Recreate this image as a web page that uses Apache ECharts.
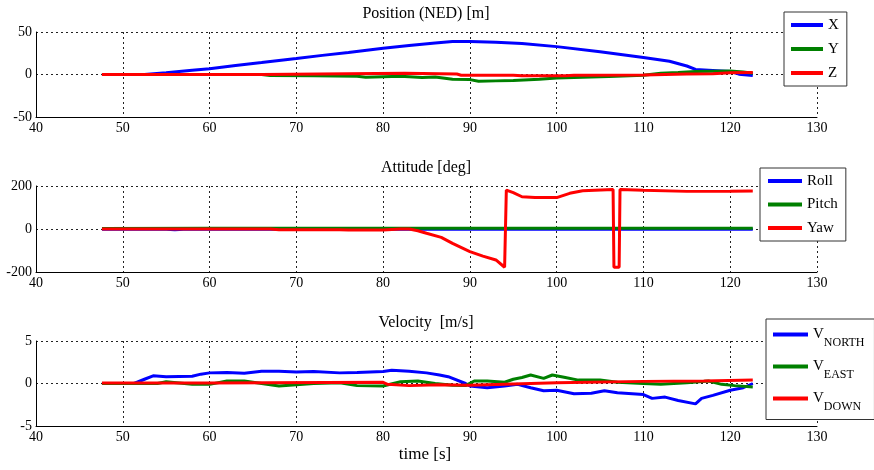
<!DOCTYPE html>
<html>
<head>
<meta charset="utf-8">
<script src="https://cdn.jsdelivr.net/npm/echarts@6/dist/echarts.min.js"></script>
<style>
  html, body { margin: 0; padding: 0; background: #fff; }
  #chart { width: 874px; height: 470px; }
</style>
</head>
<body>
<div id="chart"></div>
<script>
// position (NED) [m]
var posXT = [47.6, 52.5, 55, 58, 60, 63, 66, 70, 73, 76, 80, 83, 86, 88, 90, 93, 96, 100, 105, 110, 113, 115, 116, 118, 120, 121, 122.6]
var posX = [0, 0, 2, 5, 6.8, 10.5, 14, 18.8, 22.5, 26, 30.8, 34, 37, 38.8, 38.8, 38, 36.4, 32.8, 26.8, 20, 15.6, 10, 6, 4.8, 3.6, 0.4, -1.2]
var posYT = [47.6, 66, 67, 72, 77, 78, 82, 84.5, 86, 88, 90, 91, 93, 95, 98, 100, 103, 106, 110, 112, 114, 116, 120, 121.5, 122.6]
var posY = [0, 0, -1.2, -1.5, -2, -3.2, -2, -3.6, -3, -5.6, -6, -8, -7.5, -7.2, -5.6, -4, -3.2, -2.4, -0.8, 1.6, 2.5, 3.6, 4, 3, 1.6]
var posZT = [47.6, 66, 66.1, 82.5, 82.6, 88.5, 89, 95, 96, 101, 102, 110, 115, 118, 120, 122.6]
var posZ = [0, 0, 1.5, 1.5, 0.3, 0.5, -0.8, -0.8, -1.6, -1.6, -0.8, -0.5, 0.5, 1, 2, 2.4]

// attitude [deg]
var rollT = [47.6, 55, 56, 57, 70, 90, 110, 122.6]
var roll = [-1, -1, -3, -1, -1, -1, -1, -1]
var pitchT = [47.6, 60, 75, 80, 90, 100, 110, 122.6]
var pitch = [2, 3, 3, 3, 3, 3, 3, 3]
var yawT = [47.6, 67, 68, 75, 76, 80, 82, 83, 84, 85, 86.7, 88, 90, 91.5, 93, 94, 94.2, 95, 96, 97.5, 100, 101.5, 103, 106.5, 106.6, 107.2, 107.3, 110, 115, 120, 122.6]
var yaw = [0, 0, -3, -3, -5, -5, 0, 0, -8, -20, -39, -67, -105, -126, -144, -178, 181, 169, 150, 146, 146, 166, 178, 184, -178, -178, 184, 180, 175, 176, 177]

// velocity [m/s]
var vnT = [47.6, 51.3, 52.5, 53.5, 55, 58, 59, 60, 62, 64, 66, 68, 70, 72, 75, 77, 80, 81, 83, 85, 86.5, 87.5, 89.5, 90, 92, 94, 95.5, 97, 98.5, 100, 102, 104, 105.5, 107, 110, 111, 112.5, 114, 116, 116.7, 118, 120, 121.5, 122.6]
var vn = [0, 0, 0.5, 0.9, 0.8, 0.85, 1.1, 1.25, 1.3, 1.2, 1.45, 1.45, 1.35, 1.4, 1.25, 1.3, 1.4, 1.55, 1.45, 1.25, 1.0, 0.8, 0, -0.3, -0.5, -0.3, -0.1, -0.5, -0.85, -0.8, -1.2, -1.15, -0.85, -1.1, -1.3, -1.75, -1.6, -2.0, -2.4, -1.75, -1.4, -0.8, -0.5, 0]
var veT = [47.6, 54, 55, 58, 60, 62, 64, 66, 68, 70, 72, 75, 77, 80, 82, 84, 86, 88, 89.5, 90.5, 92, 94, 95, 96, 97, 98.5, 99.5, 101, 102.5, 105, 107, 110, 112, 115, 117.5, 119, 120.5, 122.6]
var ve = [0, 0, 0.2, -0.1, -0.1, 0.3, 0.3, 0, -0.3, -0.15, 0, 0.1, -0.25, -0.3, 0.2, 0.3, 0, -0.2, -0.25, 0.3, 0.3, 0.15, 0.5, 0.7, 1.0, 0.6, 1.0, 0.7, 0.4, 0.4, 0.15, 0, -0.1, 0.1, 0.3, -0.1, -0.25, -0.4]
var vdT = [47.6, 60, 60.1, 80, 80.5, 83, 86.5, 90, 95, 100, 110, 117, 122.6]
var vd = [0.05, 0.05, 0.15, 0.15, -0.1, -0.25, -0.15, -0.2, -0.05, 0.1, 0.25, 0.3, 0.4]

var xTicks = { min: 40, max: 130, interval: 10 }
var yTicks = [
  { min: -50, max: 50, interval: 50 },
  { min: -200, max: 200, interval: 200 },
  { min: -5, max: 5, interval: 5 }
]
var titles = ['Position (NED) [m]', 'Attitude [deg]', 'Velocity  [m/s]']
var names = [['X', 'Y', 'Z'], ['Roll', 'Pitch', 'Yaw'], ['V_NORTH', 'V_EAST', 'V_DOWN']]
var colors = ['#0000ff', '#008000', '#ff0000']

var serif = "'Liberation Serif', 'Times New Roman', serif"

function pairs (t, v) {
  return t.map(function (x, i) { return [x, v[i]] })
}

var gridTops = [32, 186, 341]
var gridHeights = [85, 86, 85]

var grids = gridTops.map(function (top, i) {
  return { left: 36, top: top, width: 781, height: gridHeights[i] }
})

var splitStyle = { show: true, lineStyle: { color: '#222', width: 1, type: [2, 3] } }

var xAxes = gridTops.map(function (t, i) {
  return {
    type: 'value',
    gridIndex: i,
    min: xTicks.min,
    max: xTicks.max,
    interval: xTicks.interval,
    axisLine: { show: true, onZero: false, lineStyle: { color: '#000', width: 1 } },
    axisTick: { show: false },
    axisLabel: { color: '#000', fontFamily: serif, fontSize: 14, margin: 4 },
    splitLine: splitStyle
  }
})

var yAxes = yTicks.map(function (y, i) {
  return {
    type: 'value',
    gridIndex: i,
    min: y.min,
    max: y.max,
    interval: y.interval,
    axisLine: { show: true, onZero: false, lineStyle: { color: '#000', width: 1 } },
    axisTick: { show: false },
    axisLabel: { color: '#000', fontFamily: serif, fontSize: 14, margin: 4 },
    splitLine: splitStyle
  }
})

var seriesData = [
  [pairs(posXT, posX), pairs(posYT, posY), pairs(posZT, posZ)],
  [pairs(rollT, roll), pairs(pitchT, pitch), pairs(yawT, yaw)],
  [pairs(vnT, vn), pairs(veT, ve), pairs(vdT, vd)]
]

var series = []
seriesData.forEach(function (group, g) {
  group.forEach(function (d, k) {
    series.push({
      name: names[g][k],
      type: 'line',
      xAxisIndex: g,
      yAxisIndex: g,
      data: d,
      symbol: 'none',
      lineStyle: { color: colors[k], width: 3 },
      itemStyle: { color: colors[k] },
      animation: false
    })
  })
})

var legendBase = {
  orient: 'vertical',
  icon: 'rect',
  backgroundColor: '#fff',
  borderColor: '#333',
  borderWidth: 1,
  borderRadius: 0,
  selectedMode: false,
  textStyle: { color: '#000', fontFamily: serif, fontSize: 15, lineHeight: 16 }
}

var legends = [
  Object.assign({}, legendBase, {
    data: names[0], left: 784, top: 12, itemWidth: 32, itemHeight: 4, itemGap: 8, padding: [5, 8, 5, 7]
  }),
  Object.assign({}, legendBase, {
    data: names[1], left: 760, top: 168, itemWidth: 34, itemHeight: 4, itemGap: 7.5, padding: [5, 8, 5, 8]
  }),
  Object.assign({}, legendBase, {
    data: names[2], left: 766, top: 319, itemWidth: 35, itemHeight: 4, itemGap: 10.5, padding: [8, 10, 7, 7],
    formatter: function (name) {
      return '{a|V}{b|' + name.split('_')[1] + '}'
    },
    textStyle: {
      color: '#000',
      fontFamily: serif,
      rich: {
        a: { fontFamily: serif, fontSize: 15, lineHeight: 28, verticalAlign: 'middle', color: '#000' },
        b: { fontFamily: serif, fontSize: 12, lineHeight: 28, verticalAlign: 'bottom', color: '#000' }
      }
    }
  })
]

var textY = [14, 168, 323]
var graphics = titles.map(function (t, i) {
  return {
    type: 'text',
    x: 426,
    y: textY[i],
    style: { text: t, fill: '#000', font: '16px ' + serif, textAlign: 'center', textVerticalAlign: 'middle' }
  }
})
graphics.push({
  type: 'text',
  x: 425,
  y: 455,
  style: { text: 'time [s]', fill: '#000', font: '17px ' + serif, textAlign: 'center', textVerticalAlign: 'middle' }
})

var mychart = echarts.init(document.getElementById('chart'))
mychart.setOption({
  backgroundColor: '#fff',
  animation: false,
  grid: grids,
  xAxis: xAxes,
  yAxis: yAxes,
  legend: legends,
  graphic: graphics,
  series: series
})
</script>
</body>
</html>
